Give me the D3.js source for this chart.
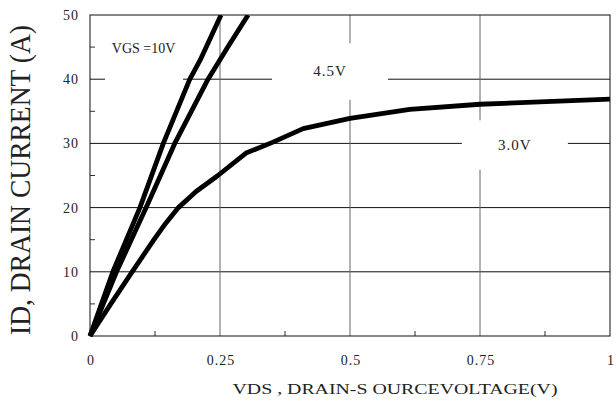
<!DOCTYPE html>
<html>
<head>
<meta charset="utf-8">
<script src="https://cdn.jsdelivr.net/npm/d3@7"></script>
<style>
  html, body { margin: 0; padding: 0; background: #fff; }
  svg { display: block; }
  text { font-family: "Liberation Serif", "Times New Roman", serif; fill: #222; }
</style>
</head>
<body>
<svg id="chart" width="616" height="409"></svg>
<script>
// Drain current vs drain-source voltage for three gate voltages
const vdsVgs10 = [0, 0.044, 0.096, 0.141, 0.192, 0.212, 0.252];
const idVgs10  = [0, 10, 20, 30, 40, 43, 50];

const vdsVgs45 = [0, 0.051, 0.108, 0.163, 0.227, 0.265, 0.304];
const idVgs45  = [0, 10, 20, 30, 40, 45, 50];

const vdsVgs30 = [0, 0.040, 0.081, 0.123, 0.145, 0.170, 0.204, 0.246, 0.300, 0.352, 0.410, 0.500, 0.615, 0.750, 1.0];
const idVgs30  = [0, 5, 10, 15, 17.5, 20, 22.5, 25, 28.5, 30.2, 32.3, 33.9, 35.3, 36.1, 36.9];

const seriesLabels = ["VGS =10V", "4.5V", "3.0V"];

const xTicks = [0, 0.25, 0.5, 0.75, 1];
const xTickLabels = ["0", "0.25", "0.5", "0.75", "1"];
const xMinorTicks = [0.125, 0.375, 0.625, 0.875];
const yTicks = [0, 10, 20, 30, 40, 50];
const yMinorTicks = [5, 15, 25, 35, 45];

const xTitle = "VDS , DRAIN-S OURCEVOLTAGE(V)";
const yTitle = "ID, DRAIN CURRENT (A)";

const svg = d3.select("#chart");
const plotLeft = 90, plotRight = 610, plotTop = 15, plotBottom = 336;

const x = d3.scaleLinear().domain([0, 1]).range([plotLeft, plotRight]);
const y = d3.scaleLinear().domain([0, 50]).range([plotBottom, plotTop]);

// Grid: horizontal lines dark, vertical lines grey
svg.append("g").selectAll("line")
  .data(yTicks.filter(t => t > 0 && t < 50))
  .join("line")
  .attr("x1", plotLeft).attr("x2", plotRight)
  .attr("y1", d => y(d)).attr("y2", d => y(d))
  .attr("stroke", "#111").attr("stroke-width", 1);

svg.append("g").selectAll("line")
  .data(xTicks.filter(t => t > 0 && t < 1))
  .join("line")
  .attr("y1", plotTop).attr("y2", plotBottom)
  .attr("x1", d => x(d)).attr("x2", d => x(d))
  .attr("stroke", "#666").attr("stroke-width", 1);

// Minor ticks pointing into the plot
svg.append("g").selectAll("line")
  .data(yMinorTicks)
  .join("line")
  .attr("x1", plotLeft).attr("x2", plotLeft + 5)
  .attr("y1", d => y(d)).attr("y2", d => y(d))
  .attr("stroke", "#333");

svg.append("g").selectAll("line")
  .data(xMinorTicks)
  .join("line")
  .attr("y1", plotBottom).attr("y2", plotBottom - 5)
  .attr("x1", d => x(d)).attr("x2", d => x(d))
  .attr("stroke", "#333");

// Label boxes (white backgrounds that interrupt the grid), in data units
const labelBoxes = [
  { x0: 0.029, x1: 0.179, y0: 38.9, y1: 47.7, tx: 0.042, ty: 44.1, anchor: "start", size: 14, spacing: 0 },
  { x0: 0.350, x1: 0.573, y0: 36.8, y1: 45.6, tx: 0.4615, ty: 40.5, anchor: "middle", size: 15, spacing: 1 },
  { x0: 0.715, x1: 0.919, y0: 25.9, y1: 33.6, tx: 0.817, ty: 29.0, anchor: "middle", size: 15, spacing: 1 }
];

svg.append("g").selectAll("rect")
  .data(labelBoxes)
  .join("rect")
  .attr("x", d => x(d.x0)).attr("width", d => x(d.x1) - x(d.x0))
  .attr("y", d => y(d.y1)).attr("height", d => y(d.y0) - y(d.y1))
  .attr("fill", "#fff");

svg.append("g").selectAll("text")
  .data(labelBoxes)
  .join("text")
  .attr("x", d => x(d.tx)).attr("y", d => y(d.ty))
  .attr("text-anchor", d => d.anchor)
  .attr("font-size", d => d.size)
  .attr("letter-spacing", d => d.spacing)
  .text((d, i) => seriesLabels[i]);

// Curves
svg.append("clipPath").attr("id", "plotClip")
  .append("rect").attr("x", plotLeft - 3).attr("y", plotTop)
  .attr("width", plotRight - plotLeft + 8).attr("height", plotBottom - plotTop + 3);

const line = d3.line().x(d => x(d[0])).y(d => y(d[1]));
const curves = [
  d3.zip(vdsVgs10, idVgs10),
  d3.zip(vdsVgs45, idVgs45),
  d3.zip(vdsVgs30, idVgs30)
];

svg.append("g").attr("clip-path", "url(#plotClip)")
  .selectAll("path")
  .data(curves)
  .join("path")
  .attr("d", line)
  .attr("fill", "none")
  .attr("stroke", "#000")
  .attr("stroke-width", 4.8)
  .attr("stroke-linejoin", "round");

// Plot frame
svg.append("rect")
  .attr("x", plotLeft).attr("y", plotTop)
  .attr("width", plotRight - plotLeft).attr("height", plotBottom - plotTop)
  .attr("fill", "none").attr("stroke", "#111").attr("stroke-width", 1);

// Tick labels
svg.append("g").selectAll("text")
  .data(yTicks)
  .join("text")
  .attr("x", plotLeft - 11).attr("y", d => y(d) + 5)
  .attr("text-anchor", "end")
  .attr("font-size", 14)
  .attr("letter-spacing", 1)
  .text(d => d3.format("d")(d));

svg.append("g").selectAll("text")
  .data(xTicks)
  .join("text")
  .attr("x", d => x(d) + 1).attr("y", 365)
  .attr("text-anchor", "middle")
  .attr("font-size", 14)
  .attr("letter-spacing", 1)
  .text((d, i) => xTickLabels[i]);

// Axis titles
svg.append("text")
  .attr("x", 395).attr("y", 394)
  .attr("text-anchor", "middle")
  .attr("font-size", 14.5)
  .attr("textLength", 325)
  .attr("lengthAdjust", "spacingAndGlyphs")
  .text(xTitle);

svg.append("text")
  .attr("transform", "translate(30,180) rotate(-90)")
  .attr("text-anchor", "middle")
  .attr("font-size", 29)
  .attr("textLength", 310)
  .attr("lengthAdjust", "spacingAndGlyphs")
  .text(yTitle);
</script>
</body>
</html>
